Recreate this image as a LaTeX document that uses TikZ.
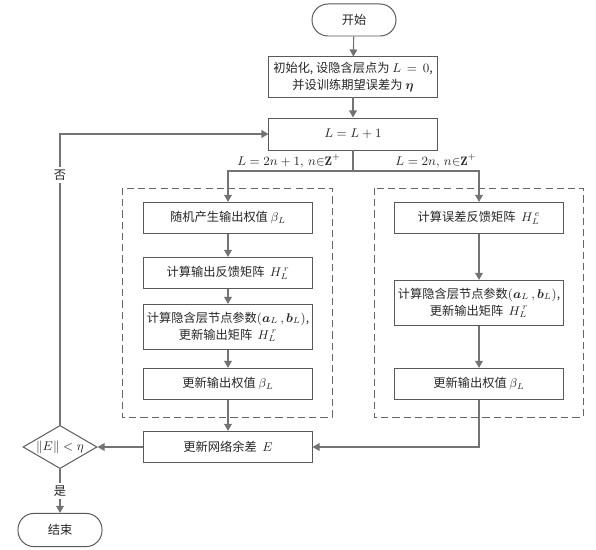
\documentclass[tikz,border=0pt]{standalone}
\usepackage{amsmath}
\usepackage{bm}
\usepackage{fontspec}
\newfontfamily\cjk{Noto Sans CJK SC}
\usetikzlibrary{positioning,calc,arrows,arrows.meta,shapes.geometric}
\tikzset{font=\small}

\begin{document}
\begin{tikzpicture}[x=0.025cm, y=-0.025cm]
	\useasboundingbox (0,0) rectangle (596,550);
	\begin{scope}
		\tikzstyle{every node}=[align=center, inner sep=1pt, text=black!85, font=\cjk\fontsize{8.7}{12}\selectfont]
		\tikzstyle{box}=[draw=black!65, line width=0.7pt, minimum width=4.2cm, minimum height=0.78cm]
		\tikzstyle{term}=[draw=black!65, line width=0.7pt, rounded corners=0.4cm, minimum width=2.1cm, minimum height=0.8cm]
		\tikzstyle{arr}=[draw=black!55, line width=0.8pt, -{Triangle[length=5pt, width=5.5pt]}]
		\tikzstyle{line}=[draw=black!55, line width=0.8pt]
		\tikzstyle{frame}=[draw=black!60, line width=0.7pt, dash pattern=on 5pt off 3pt]

		\node[term] (start) at (354, 20) {开始};
		\node[box, minimum height=1cm] (init) at (353, 77) {初始化, 设隐含层点为 $L\,=\,0$,\\并设训练期望误差为 $\bm{\eta}$};
		\node[box, minimum height=0.8cm] (inc) at (353, 134) {$L = L + 1$};
		\coordinate (fork) at (353, 171);

		\node (oddl) at (289, 161) {$L = 2n+1,\, n{\in}\mathbf{Z}^{+}$};
		\node (evenl) at (436, 161) {$L = 2n,\, n{\in}\mathbf{Z}^{+}$};

		\draw[frame] (122, 188) rectangle (332, 417);
		\draw[frame] (374, 188) rectangle (583, 417);

		\node[box] (l1) at (228, 218) {随机产生输出权值 $\beta_L$};
		\node[box] (l2) at (228, 273) {计算输出反馈矩阵 \ $H_L^{\,r}$};
		\node[box, minimum height=1.13cm] (l3) at (228, 327) {计算隐含层节点参数$(\bm{a}_L\,,\bm{b}_L)$,\\更新输出矩阵 \ $H_L^{\,r}$};
		\node[box] (l4) at (228, 384) {更新输出权值 $\beta_L$};

		\node[box] (r1) at (479, 218) {计算误差反馈矩阵 \ $H_L^{\,e}$};
		\node[box, minimum height=1.13cm] (r2) at (479, 303) {计算隐含层节点参数$(\bm{a}_L\,,\bm{b}_L)$,\\更新输出矩阵 \ $H_L^{\,r}$};
		\node[box] (r3) at (479, 384) {更新输出权值 $\beta_L$};

		\node[box] (upd) at (228, 447) {更新网络余差 \ $E$};
		\node[draw=black!65, line width=0.7pt, diamond, aspect=1.7, inner sep=0pt, minimum width=1.85cm, minimum height=1.08cm] (chk) at (60, 447) {$\|E\| < \eta$};
		\node[term, minimum height=0.83cm] (stop) at (60, 530) {结束};

		\draw[arr] (start) -- (init);
		\draw[arr] (init) -- (inc);
		\draw[line] (inc) -- (fork);
		\draw[arr] (fork) -| (l1);
		\draw[arr] (fork) -| (r1);
		\draw[arr] (l1) -- (l2);
		\draw[arr] (l2) -- (l3);
		\draw[arr] (l3) -- (l4);
		\draw[arr] (l4) -- (upd);
		\draw[arr] (r1) -- (r2);
		\draw[arr] (r2) -- (r3);
		\draw[arr] (r3) |- (upd);
		\draw[arr] (upd) -- (chk);
		\draw[arr] (chk) |- node[pos=0.43, fill=white, inner sep=2pt] {否} (inc);
		\draw[arr] (chk) -- node[fill=white, inner sep=2pt] {是} (stop);
	\end{scope}
\end{tikzpicture}
\end{document}
